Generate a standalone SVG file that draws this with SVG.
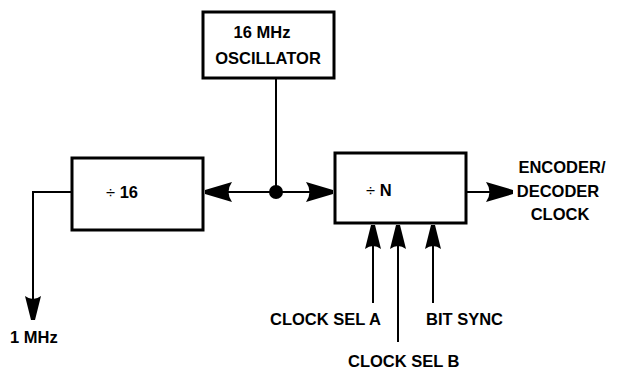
<svg xmlns="http://www.w3.org/2000/svg" width="617" height="371" viewBox="0 0 617 371">
<style>
.box{fill:#fff;stroke:#000;stroke-width:3}
.ln{fill:none;stroke:#000;stroke-width:2}
text{font-family:"Liberation Sans",Arial,sans-serif;font-weight:bold;font-size:16.5px;fill:#000}
.div{font-weight:normal}
</style>
<defs>
<marker id="ah" markerUnits="userSpaceOnUse" viewBox="-29 -11 30 22" refX="0" refY="0" markerWidth="30" markerHeight="22" orient="auto-start-reverse">
<path d="M0,-2 L-27,-10 Q-20,0 -27,10 L0,2 Z" fill="#000"/>
</marker>
<marker id="av" markerUnits="userSpaceOnUse" viewBox="-27 -9 28 18" refX="0" refY="0" markerWidth="28" markerHeight="18" orient="auto">
<path d="M0,-2 L-24,-8 Q-18,0 -24,8 L0,2 Z" fill="#000"/>
</marker>
</defs>
<rect width="617" height="371" fill="#fff"/>
<g id="connectors">
<path class="ln" d="M276,78 V192"/>
<path class="ln" d="M205,192 H333" marker-start="url(#ah)" marker-end="url(#ah)"/>
<path class="ln" d="M72,192 H33 V320" marker-end="url(#av)"/>
<path class="ln" d="M466,192 H513" marker-end="url(#ah)"/>
<path class="ln" d="M373,303 V225" marker-end="url(#av)"/>
<path class="ln" d="M398,342 V225" marker-end="url(#av)"/>
<path class="ln" d="M433,303 V225" marker-end="url(#av)"/>
<circle cx="276" cy="192" r="7" fill="#000"/>
</g>
<g id="oscillator">
<rect class="box" x="203" y="12" width="131" height="66"/>
<text x="262" y="38" text-anchor="middle">16 MHz</text>
<text x="268" y="64" text-anchor="middle">OSCILLATOR</text>
</g>
<g id="div16">
<rect class="box" x="72" y="158" width="131" height="72"/>
<text x="106" y="198"><tspan class="div">÷</tspan> 16</text>
</g>
<g id="divN">
<rect class="box" x="335" y="153" width="131" height="70"/>
<text x="366" y="196"><tspan class="div">÷</tspan> N</text>
</g>
<g id="out1mhz">
<text x="10" y="343">1 MHz</text>
</g>
<g id="encdec">
<text x="562" y="173" text-anchor="middle">ENCODER/</text>
<text x="558" y="197" text-anchor="middle">DECODER</text>
<text x="560" y="220" text-anchor="middle">CLOCK</text>
</g>
<g id="selA"><text x="270" y="325">CLOCK SEL A</text></g>
<g id="selB"><text x="348" y="367">CLOCK SEL B</text></g>
<g id="bitsync"><text x="426" y="325">BIT SYNC</text></g>
</svg>
